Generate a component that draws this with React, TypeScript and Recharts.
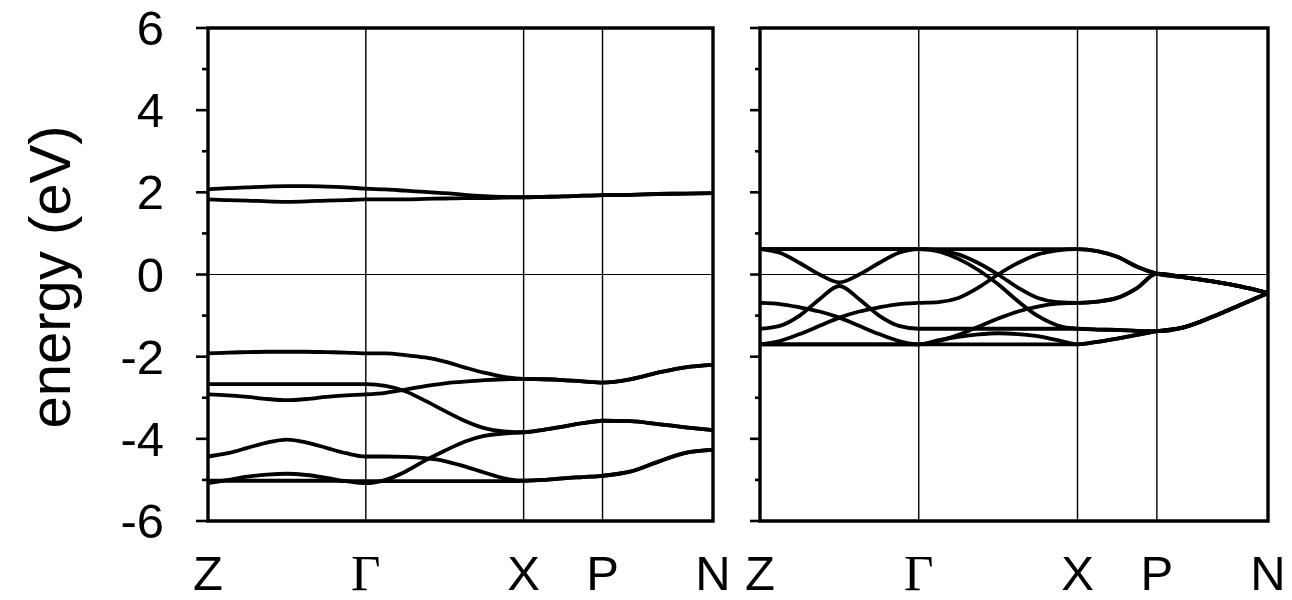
import React from 'react';
import { LineChart, Line, XAxis, YAxis, ReferenceLine, ReferenceArea } from 'recharts';

// k-path sample positions (Z=0, Γ=1, X=2, P=2.5, N=3.2)
const KPATH = [0, 0.125, 0.25, 0.375, 0.5, 0.625, 0.75, 0.875, 1,
  1.125, 1.25, 1.375, 1.5, 1.625, 1.75, 1.875, 2,
  2.125, 2.25, 2.375, 2.5,
  2.675, 2.85, 3.025, 3.2];
const K_TICKS = [0, 1, 2, 2.5, 3.2];
const K_LABELS = ['Z', 'Γ', 'X', 'P', 'N'];
const Y_TICKS = [-6, -5, -4, -3, -2, -1, 0, 1, 2, 3, 4, 5, 6];

// Left panel bands (eV)
const L_C1 = [2.07, 2.10, 2.12, 2.14, 2.15, 2.15, 2.14, 2.12, 2.09, 2.07, 2.04, 2.01, 1.98, 1.94, 1.91, 1.89, 1.88, 1.89, 1.90, 1.92, 1.93, 1.94, 1.96, 1.97, 1.98];
const L_C2 = [1.83, 1.81, 1.80, 1.78, 1.77, 1.78, 1.80, 1.81, 1.83, 1.83, 1.83, 1.84, 1.85, 1.86, 1.86, 1.87, 1.88, 1.89, 1.90, 1.92, 1.93, 1.94, 1.96, 1.97, 1.98];
const L_VA = [-1.92, -1.90, -1.89, -1.88, -1.88, -1.88, -1.89, -1.90, -1.92, -1.92, -1.96, -2.02, -2.12, -2.26, -2.39, -2.49, -2.54, -2.55, -2.57, -2.60, -2.63, -2.55, -2.39, -2.26, -2.20];
const L_VB = [-2.67, -2.67, -2.67, -2.67, -2.67, -2.67, -2.67, -2.67, -2.67, -2.71, -2.84, -3.07, -3.32, -3.56, -3.74, -3.82, -3.84, -3.78, -3.70, -3.62, -3.56, -3.57, -3.64, -3.72, -3.79];
const L_VC = [-2.92, -2.94, -2.98, -3.03, -3.06, -3.03, -2.98, -2.94, -2.92, -2.88, -2.80, -2.72, -2.65, -2.61, -2.57, -2.55, -2.54, -2.55, -2.57, -2.60, -2.63, -2.55, -2.39, -2.26, -2.20];
const L_VD = [-5.08, -5.00, -4.92, -4.87, -4.85, -4.88, -4.95, -5.03, -5.08, -5.00, -4.80, -4.53, -4.29, -4.07, -3.93, -3.87, -3.84, -3.78, -3.70, -3.62, -3.56, -3.57, -3.64, -3.72, -3.79];
const L_VE = [-4.43, -4.35, -4.22, -4.09, -4.02, -4.09, -4.22, -4.35, -4.43, -4.43, -4.44, -4.47, -4.54, -4.67, -4.82, -4.96, -5.02, -5.00, -4.96, -4.93, -4.90, -4.80, -4.56, -4.34, -4.27];
const L_VF = [-5.02, -5.02, -5.02, -5.02, -5.02, -5.02, -5.02, -5.03, -5.03, -5.03, -5.03, -5.03, -5.03, -5.03, -5.03, -5.03, -5.02, -5.00, -4.96, -4.93, -4.90, -4.80, -4.56, -4.34, -4.27];

// Right panel bands (eV)
const R_B1 = [0.62, 0.62, 0.62, 0.62, 0.62, 0.62, 0.62, 0.62, 0.62, 0.62, 0.62, 0.62, 0.62, 0.62, 0.62, 0.62, 0.62, 0.57, 0.43, 0.19, 0.02, -0.07, -0.17, -0.29, -0.45];
const R_B2 = [0.62, 0.62, 0.62, 0.62, 0.62, 0.62, 0.62, 0.62, 0.62, 0.56, 0.38, 0.11, -0.24, -0.65, -1.01, -1.24, -1.32, -1.34, -1.35, -1.37, -1.38, -1.28, -1.03, -0.74, -0.45];
const R_B3 = [0.62, 0.53, 0.28, 0.00, -0.19, 0.00, 0.28, 0.53, 0.62, 0.59, 0.49, 0.28, 0.00, -0.32, -0.57, -0.67, -0.69, -0.66, -0.57, -0.33, 0.02, -0.07, -0.17, -0.29, -0.45];
const R_B4 = [-1.32, -1.25, -1.00, -0.60, -0.28, -0.60, -1.00, -1.25, -1.32, -1.32, -1.32, -1.32, -1.32, -1.32, -1.32, -1.32, -1.32, -1.34, -1.35, -1.37, -1.38, -1.28, -1.03, -0.74, -0.45];
const R_B5 = [-0.69, -0.72, -0.80, -0.90, -1.05, -1.25, -1.45, -1.62, -1.70, -1.62, -1.47, -1.27, -1.07, -0.90, -0.78, -0.71, -0.69, -0.66, -0.57, -0.33, 0.02, -0.07, -0.17, -0.29, -0.45];
const R_B6 = [-1.70, -1.62, -1.45, -1.25, -1.05, -0.90, -0.80, -0.72, -0.69, -0.67, -0.57, -0.32, 0.00, 0.28, 0.49, 0.59, 0.62, 0.57, 0.43, 0.19, 0.02, -0.07, -0.17, -0.29, -0.45];
const R_B7 = [-1.70, -1.70, -1.70, -1.70, -1.70, -1.70, -1.70, -1.70, -1.70, -1.60, -1.52, -1.46, -1.43, -1.45, -1.50, -1.60, -1.70, -1.64, -1.56, -1.47, -1.38, -1.28, -1.03, -0.74, -0.45];
const R_B8 = [-1.70, -1.70, -1.70, -1.70, -1.70, -1.70, -1.70, -1.70, -1.70, -1.70, -1.70, -1.70, -1.70, -1.70, -1.70, -1.70, -1.70, -1.64, -1.56, -1.47, -1.38, -1.28, -1.03, -0.74, -0.45];

const LEFT_BANDS = [L_C1, L_C2, L_VA, L_VB, L_VC, L_VD, L_VE, L_VF];
const RIGHT_BANDS = [R_B1, R_B2, R_B3, R_B4, R_B5, R_B6, R_B7, R_B8];

const buildData = (bands: number[][]) =>
  KPATH.map((k, i) => {
    const row: Record<string, number> = { k };
    bands.forEach((b, j) => { row['b' + j] = b[i]; });
    return row;
  });

const SANS = '"Liberation Sans", Arial, Helvetica, sans-serif';
const SERIF = '"Liberation Serif", "Times New Roman", "DejaVu Serif", serif';

const makeYTick = (side: 'left' | 'right', labels: boolean, major: number, minor: number) => (props: any) => {
  const { x, y, payload } = props;
  const v = payload.value as number;
  const isMajor = v % 2 === 0;
  const len = isMajor ? major : minor;
  const dir = side === 'left' ? -1 : 1;
  return (
    <g>
      <line x1={x} y1={y} x2={x + dir * len} y2={y} stroke="#000" strokeWidth={2.6} />
      {labels && isMajor && (
        <text x={x - 44} y={y + 17} textAnchor="end" fontSize={49} fontFamily={SANS} fill="#000">
          {String(v)}
        </text>
      )}
    </g>
  );
};

const XTick = (props: any) => {
  const { x, y, payload } = props;
  const i = K_TICKS.indexOf(payload.value);
  const lab = K_LABELS[i];
  const serif = lab === 'Γ';
  return (
    <text x={x} y={y + 69} textAnchor="middle" fontSize={serif ? 51 : 49} fontFamily={serif ? SERIF : SANS} fill="#000">
      {lab}
    </text>
  );
};

const yLabel = () => (
  <text x={70} y={277} transform="rotate(-90 70 277)" textAnchor="middle" fontSize={58} fontFamily={SANS} fill="#000">
    energy (eV)
  </text>
);

type PanelProps = {
  bands: number[][];
  width: number;
  leftW: number;
  rightW: number;
  leftLabels: boolean;
  leftMajor: number;
  leftMinor: number;
  rightMajor: number;
  rightMinor: number;
};

const Panel = ({ bands, width, leftW, rightW, leftLabels, leftMajor, leftMinor, rightMajor, rightMinor }: PanelProps) => {
  const data = buildData(bands);
  return (
    <LineChart width={width} height={600} data={data} margin={{ top: 28, right: 0, bottom: 0, left: 0 }}>
      <XAxis
        dataKey="k"
        type="number"
        domain={[0, 3.2]}
        ticks={K_TICKS}
        interval={0}
        axisLine={false}
        tickLine={false}
        tickSize={0}
        tickMargin={0}
        height={79}
        tick={<XTick />}
      />
      <YAxis
        yAxisId="l"
        orientation="left"
        type="number"
        domain={[-6, 6]}
        ticks={Y_TICKS}
        interval={0}
        width={leftW}
        axisLine={false}
        tickLine={false}
        tickSize={0}
        tickMargin={0}
        tick={makeYTick('left', leftLabels, leftMajor, leftMinor)}
        label={leftLabels ? { value: 'energy (eV)', content: yLabel } : undefined}
      />
      <YAxis
        yAxisId="r"
        orientation="right"
        type="number"
        domain={[-6, 6]}
        ticks={Y_TICKS}
        interval={0}
        width={rightW}
        axisLine={false}
        tickLine={false}
        tickSize={0}
        tickMargin={0}
        tick={makeYTick('right', false, rightMajor, rightMinor)}
      />
      <ReferenceLine yAxisId="l" y={0} stroke="#000" strokeWidth={1.2} />
      {K_TICKS.slice(1, 4).map((k) => (
        <ReferenceLine key={k} yAxisId="l" x={k} stroke="#000" strokeWidth={1.4} />
      ))}
      {bands.map((_, j) => (
        <Line
          key={j}
          yAxisId="l"
          dataKey={'b' + j}
          type="monotone"
          stroke="#000"
          strokeWidth={3.8}
          dot={false}
          activeDot={false}
          isAnimationActive={false}
        />
      ))}
      <ReferenceArea yAxisId="l" x1={0} x2={3.2} y1={-6} y2={6} ifOverflow="visible" fill="none" fillOpacity={0} stroke="#000" strokeWidth={3.4} />
    </LineChart>
  );
};

export default function App() {
  return (
    <div style={{ position: 'absolute', left: 0, top: 0, width: 1292, height: 600, background: '#fff' }}>
      <div style={{ position: 'absolute', left: 0, top: 0 }}>
        <Panel bands={LEFT_BANDS} width={740} leftW={208} rightW={27} leftLabels={true}
          leftMajor={12} leftMinor={6} rightMajor={10} rightMinor={5} />
      </div>
      <div style={{ position: 'absolute', left: 740, top: 0 }}>
        <Panel bands={RIGHT_BANDS} width={552} leftW={20} rightW={24} leftLabels={false}
          leftMajor={10} leftMinor={5} rightMajor={10} rightMinor={5} />
      </div>
    </div>
  );
}
